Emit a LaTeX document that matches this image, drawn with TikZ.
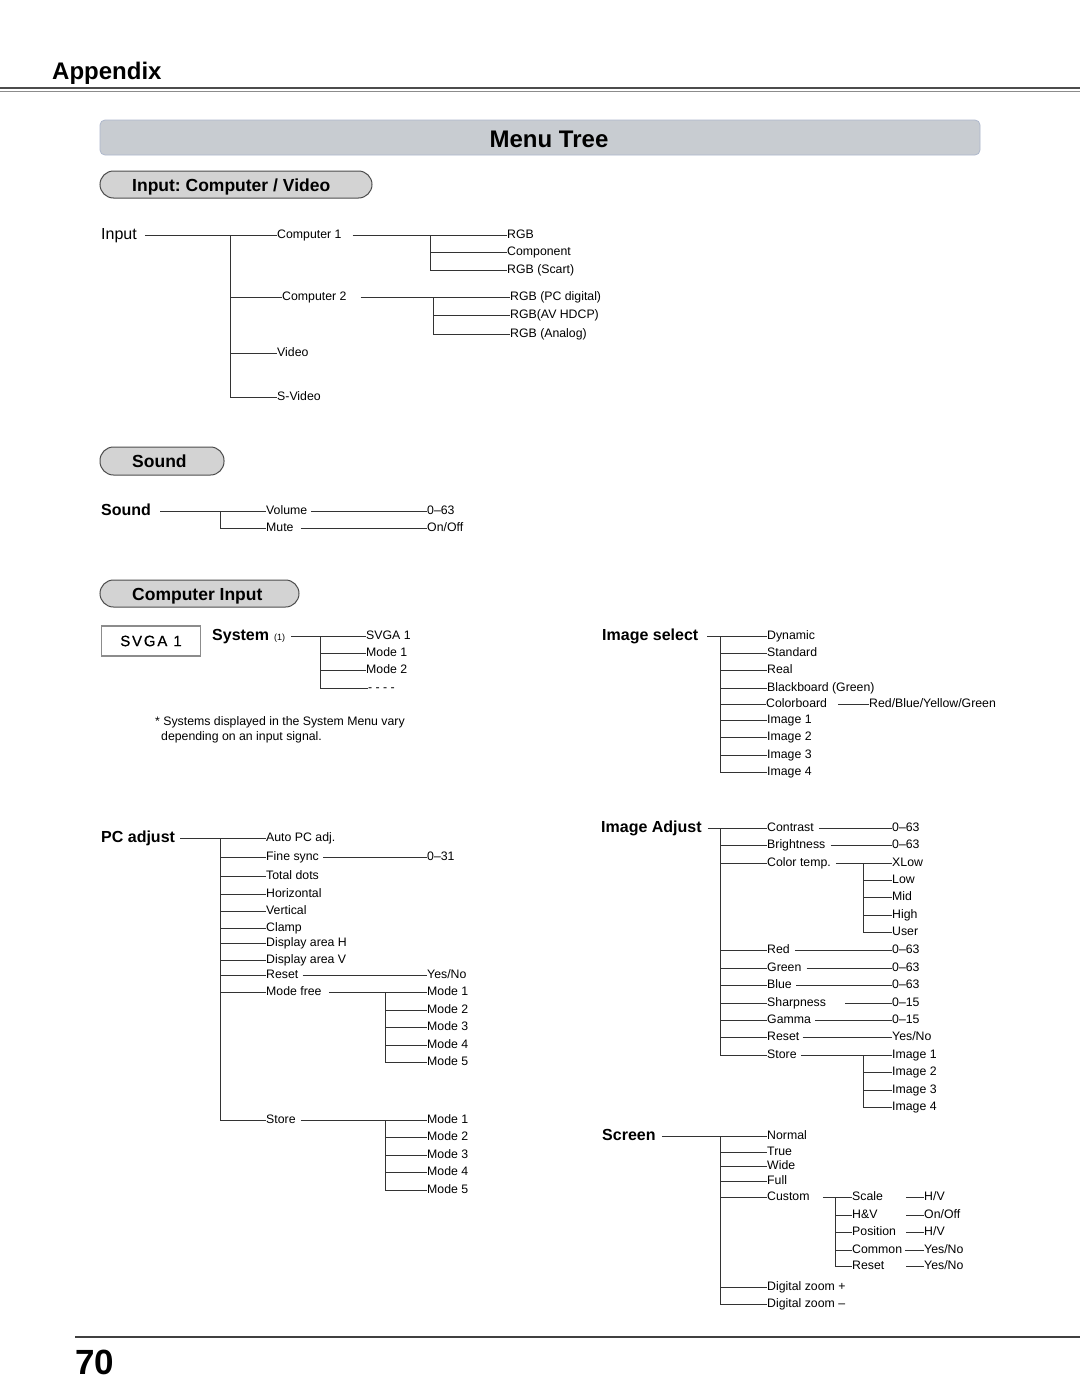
\documentclass[tikz,border=0pt]{standalone}
\usepackage{fontspec}
\setmainfont{Liberation Sans}
\definecolor{bannerfill}{HTML}{C8CCD1}
\definecolor{bannerline}{HTML}{AEB8CC}
\definecolor{pillfill}{HTML}{D3D3D3}
\definecolor{pillline}{HTML}{4D4D4D}
\definecolor{lncol}{HTML}{333333}
\newcommand\twig[2]{\draw[ln] (#1 |- #2.west) -- (#2.west);}
\begin{document}
\frenchspacing
\begin{tikzpicture}[x=1pt,y=-1pt,
  lb/.style={anchor=west, inner sep=0pt, text height=6.4pt, text depth=0pt, font=\fontsize{12.3}{14}\selectfont},
  hd/.style={anchor=west, inner sep=0pt, text height=8.3pt, text depth=0pt, font=\bfseries\fontsize{16}{19}\selectfont},
  hdr/.style={anchor=west, inner sep=0pt, text height=8.3pt, text depth=0pt, font=\fontsize{16}{19}\selectfont},
  ln/.style={draw=lncol, line width=1pt},
  pill/.style={draw=pillline, fill=pillfill, line width=1pt, rounded corners=13.5pt},
  pilltxt/.style={anchor=base west, inner sep=0pt, font=\bfseries\fontsize{17.5}{20}\selectfont}]
\useasboundingbox (0,0) rectangle (1080,1397);
\fill[white] (0,0) rectangle (1080,1397);

% ---------- header ----------
\node[anchor=base west, inner sep=0pt, font=\bfseries\fontsize{24}{28}\selectfont] (appx) at (52,80) {Appendix};
\draw[black!70, line width=1.6pt] (0,88) -- (1080,88);
\draw[black!45, line width=0.7pt] (0,91.5) -- (1080,91.5);

\draw[fill=bannerfill, draw=bannerline, line width=0.8pt, rounded corners=5pt] (100,120) rectangle (980,155);
\node[anchor=base, inner sep=0pt, font=\bfseries\fontsize{24}{28}\selectfont] (mtree) at (549,147) {Menu Tree};

% ---------- Input: Computer / Video ----------
\draw[pill] (100,171) rectangle (372,198);
\node[pilltxt] (p1) at (132,191) {Input: Computer / Video};

\node[hdr] (input) at (101,235) {Input};
\node[lb] (c1) at (277,235) {Computer 1};
\node[lb] (c2) at (282,297) {Computer 2};
\node[lb] (vid) at (277,353) {Video};
\node[lb] (svid) at (277,397) {S-Video};
\coordinate (jA) at (230,235);
\draw[ln] ([xshift=8pt]input.east) -- (c1.west);
\draw[ln] (jA) |- (svid.west);
\twig{jA}{c2}
\twig{jA}{vid}

\node[lb] (rgb) at (507,235) {RGB};
\node[lb] (cmpn) at (507,252) {Component};
\node[lb] (scart) at (507,270) {RGB (Scart)};
\coordinate (jB) at (430,235);
\draw[ln] ([xshift=11pt]c1.east) -- (rgb.west);
\draw[ln] (jB) |- (scart.west);
\twig{jB}{cmpn}

\node[lb] (pcd) at (510,297) {RGB (PC digital)};
\node[lb] (avh) at (510,315) {RGB(AV HDCP)};
\node[lb] (ana) at (510,334) {RGB (Analog)};
\coordinate (jC) at (433,297);
\draw[ln] ([xshift=14pt]c2.east) -- (pcd.west);
\draw[ln] (jC) |- (ana.west);
\twig{jC}{avh}

% ---------- Sound ----------
\draw[pill] (100,447) rectangle (224,475);
\node[pilltxt] (p2) at (132,467) {Sound};

\node[hd] (snd) at (101,511) {Sound};
\node[lb] (vol) at (266,511) {Volume};
\node[lb] (mute) at (266,528) {Mute};
\coordinate (jD) at (220,511);
\draw[ln] ([xshift=9pt]snd.east) -- (vol.west);
\draw[ln] (jD) |- (mute.west);
\node[lb] (v063) at (427,511) {0–63};
\node[lb] (onoff) at (427,528) {On/Off};
\draw[ln] ([xshift=4pt]vol.east) -- (v063.west);
\draw[ln] ([xshift=7pt]mute.east) -- (onoff.west);

% ---------- Computer Input ----------
\draw[pill] (100,580) rectangle (299,607);
\node[pilltxt] (p3) at (132,600) {Computer Input};

\node[draw=black!45, line width=1.8pt, fill=white, minimum width=99pt, minimum height=30pt, inner sep=0pt,
  font=\fontsize{15}{17}\selectfont\addfontfeature{LetterSpace=12,FakeBold=0.6}] (svga) at (151,641) {SVGA\hspace{6pt}1};

\node[hd] (sys) at (212,636) {System\hspace{5pt}{\mdseries\fontsize{9}{10}\selectfont (1)}};
\node[lb] (s1) at (366,636) {SVGA 1};
\node[lb] (sm1) at (366,653) {Mode 1};
\node[lb] (sm2) at (366,670) {Mode 2};
\node[lb] (sdots) at (368,688) {- - - -};
\coordinate (jE) at (320,636);
\draw[ln] ([xshift=6pt]sys.east) -- (s1.west);
\draw[ln] (jE) |- (sdots.west);
\twig{jE}{sm1}
\twig{jE}{sm2}

\node[lb] (note1) at (155,722) {* Systems displayed in the System Menu vary};
\node[lb] (note2) at (161,737) {depending on an input signal.};

% ---------- Image select ----------
\node[hd] (isel) at (602,636) {Image select};
\node[lb] (dyn) at (767,636) {Dynamic};
\node[lb] (std) at (767,653) {Standard};
\node[lb] (real) at (767,670) {Real};
\node[lb] (bb) at (767,688) {Blackboard (Green)};
\node[lb] (cb) at (766,704) {Colorboard};
\node[lb] (im1) at (767,720) {Image 1};
\node[lb] (im2) at (767,737) {Image 2};
\node[lb] (im3) at (767,755) {Image 3};
\node[lb] (im4) at (767,772) {Image 4};
\coordinate (jF) at (720,636);
\draw[ln] ([xshift=9pt]isel.east) -- (dyn.west);
\draw[ln] (jF) |- (im4.west);
\twig{jF}{std}
\twig{jF}{real}
\twig{jF}{bb}
\twig{jF}{cb}
\twig{jF}{im1}
\twig{jF}{im2}
\twig{jF}{im3}
\node[lb] (rbyg) at (869,704) {Red/Blue/Yellow/Green};
\draw[ln] ([xshift=11pt]cb.east) -- (rbyg.west);

% ---------- PC adjust ----------
\node[hd] (pca) at (101,838) {PC adjust};
\node[lb] (auto) at (266,838) {Auto PC adj.};
\node[lb] (fsync) at (266,857) {Fine sync};
\node[lb] (tdots) at (266,876) {Total dots};
\node[lb] (horz) at (266,894) {Horizontal};
\node[lb] (vert) at (266,911) {Vertical};
\node[lb] (clamp) at (266,928) {Clamp};
\node[lb] (dah) at (266,943) {Display area H};
\node[lb] (dav) at (266,960) {Display area V};
\node[lb] (preset) at (266,975) {Reset};
\node[lb] (mfree) at (266,992) {Mode free};
\node[lb] (pstore) at (266,1120) {Store};
\coordinate (jG) at (220,838);
\draw[ln] ([xshift=5pt]pca.east) -- (auto.west);
\draw[ln] (jG) |- (pstore.west);
\twig{jG}{fsync}
\twig{jG}{tdots}
\twig{jG}{horz}
\twig{jG}{vert}
\twig{jG}{clamp}
\twig{jG}{dah}
\twig{jG}{dav}
\twig{jG}{preset}
\twig{jG}{mfree}

\node[lb] (v031) at (427,857) {0–31};
\draw[ln] ([xshift=4pt]fsync.east) -- (v031.west);
\node[lb] (pyn) at (427,975) {Yes/No};
\draw[ln] ([xshift=4pt]preset.east) -- (pyn.west);

\node[lb] (mf1) at (427,992) {Mode 1};
\node[lb] (mf2) at (427,1010) {Mode 2};
\node[lb] (mf3) at (427,1027) {Mode 3};
\node[lb] (mf4) at (427,1045) {Mode 4};
\node[lb] (mf5) at (427,1062) {Mode 5};
\coordinate (jH) at (385,992);
\draw[ln] ([xshift=7pt]mfree.east) -- (mf1.west);
\draw[ln] (jH) |- (mf5.west);
\twig{jH}{mf2}
\twig{jH}{mf3}
\twig{jH}{mf4}

\node[lb] (ps1) at (427,1120) {Mode 1};
\node[lb] (ps2) at (427,1137) {Mode 2};
\node[lb] (ps3) at (427,1155) {Mode 3};
\node[lb] (ps4) at (427,1172) {Mode 4};
\node[lb] (ps5) at (427,1190) {Mode 5};
\coordinate (jI) at (385,1120);
\draw[ln] ([xshift=5pt]pstore.east) -- (ps1.west);
\draw[ln] (jI) |- (ps5.west);
\twig{jI}{ps2}
\twig{jI}{ps3}
\twig{jI}{ps4}

% ---------- Image Adjust ----------
\node[hd] (iadj) at (601,828) {Image Adjust};
\node[lb] (con) at (767,828) {Contrast};
\node[lb] (bri) at (767,845) {Brightness};
\node[lb] (ctemp) at (767,863) {Color temp.};
\node[lb] (red) at (767,950) {Red};
\node[lb] (grn) at (767,968) {Green};
\node[lb] (blu) at (767,985) {Blue};
\node[lb] (shp) at (767,1003) {Sharpness};
\node[lb] (gam) at (767,1020) {Gamma};
\node[lb] (ireset) at (767,1037) {Reset};
\node[lb] (istore) at (767,1055) {Store};
\coordinate (jJ) at (720,828);
\draw[ln] ([xshift=6pt]iadj.east) -- (con.west);
\draw[ln] (jJ) |- (istore.west);
\twig{jJ}{bri}
\twig{jJ}{ctemp}
\twig{jJ}{red}
\twig{jJ}{grn}
\twig{jJ}{blu}
\twig{jJ}{shp}
\twig{jJ}{gam}
\twig{jJ}{ireset}

\node[lb] (vcon) at (892,828) {0–63};
\node[lb] (vbri) at (892,845) {0–63};
\node[lb] (vred) at (892,950) {0–63};
\node[lb] (vgrn) at (892,968) {0–63};
\node[lb] (vblu) at (892,985) {0–63};
\node[lb] (vshp) at (892,1003) {0–15};
\node[lb] (vgam) at (892,1020) {0–15};
\node[lb] (vres) at (892,1037) {Yes/No};
\draw[ln] ([xshift=5pt]con.east) -- (vcon.west);
\draw[ln] ([xshift=5pt]bri.east) -- (vbri.west);
\draw[ln] ([xshift=5pt]red.east) -- (vred.west);
\draw[ln] ([xshift=5pt]grn.east) -- (vgrn.west);
\draw[ln] ([xshift=4pt]blu.east) -- (vblu.west);
\draw[ln] ([xshift=19pt]shp.east) -- (vshp.west);
\draw[ln] ([xshift=4pt]gam.east) -- (vgam.west);
\draw[ln] ([xshift=3pt]ireset.east) -- (vres.west);

\node[lb] (xlow) at (892,863) {XLow};
\node[lb] (low) at (892,880) {Low};
\node[lb] (mid) at (892,897) {Mid};
\node[lb] (high) at (892,915) {High};
\node[lb] (user) at (892,932) {User};
\coordinate (jK) at (863,863);
\draw[ln] ([xshift=5pt]ctemp.east) -- (xlow.west);
\draw[ln] (jK) |- (user.west);
\twig{jK}{low}
\twig{jK}{mid}
\twig{jK}{high}

\node[lb] (is1) at (892,1055) {Image 1};
\node[lb] (is2) at (892,1072) {Image 2};
\node[lb] (is3) at (892,1090) {Image 3};
\node[lb] (is4) at (892,1107) {Image 4};
\coordinate (jL) at (863,1055);
\draw[ln] ([xshift=4pt]istore.east) -- (is1.west);
\draw[ln] (jL) |- (is4.west);
\twig{jL}{is2}
\twig{jL}{is3}

% ---------- Screen ----------
\node[hd] (scr) at (602,1136) {Screen};
\node[lb] (nrm) at (767,1136) {Normal};
\node[lb] (tru) at (767,1152) {True};
\node[lb] (wid) at (767,1166) {Wide};
\node[lb] (ful) at (767,1181) {Full};
\node[lb] (cus) at (767,1197) {Custom};
\node[lb] (dzp) at (767,1287) {Digital zoom +};
\node[lb] (dzm) at (767,1304) {Digital zoom –};
\coordinate (jM) at (720,1136);
\draw[ln] ([xshift=6pt]scr.east) -- (nrm.west);
\draw[ln] (jM) |- (dzm.west);
\twig{jM}{tru}
\twig{jM}{wid}
\twig{jM}{ful}
\twig{jM}{cus}
\twig{jM}{dzp}

\node[lb] (scl) at (852,1197) {Scale};
\node[lb] (hv) at (852,1215) {H\&V};
\node[lb] (pos) at (852,1232) {Position};
\node[lb] (cmn) at (852,1250) {Common};
\node[lb] (crs) at (852,1266) {Reset};
\coordinate (jN) at (835,1197);
\draw[ln] ([xshift=13pt]cus.east) -- (scl.west);
\draw[ln] (jN) |- (crs.west);
\twig{jN}{hv}
\twig{jN}{pos}
\twig{jN}{cmn}

\node[lb] (vscl) at (924,1197) {H/V};
\node[lb] (vhv) at (924,1215) {On/Off};
\node[lb] (vpos) at (924,1232) {H/V};
\node[lb] (vcmn) at (924,1250) {Yes/No};
\node[lb] (vcrs) at (924,1266) {Yes/No};
\draw[ln] ([xshift=-18pt]vscl.west) -- (vscl.west);
\draw[ln] ([xshift=-18pt]vhv.west) -- (vhv.west);
\draw[ln] ([xshift=-18pt]vpos.west) -- (vpos.west);
\draw[ln] ([xshift=-19pt]vcmn.west) -- (vcmn.west);
\draw[ln] ([xshift=-18pt]vcrs.west) -- (vcrs.west);

% ---------- footer ----------
\draw[black!75, line width=1.3pt] (75,1337) -- (1080,1337);
\node[anchor=base west, inner sep=0pt, font=\bfseries\fontsize{35}{40}\selectfont] (pgno) at (75,1374) {70};
\end{tikzpicture}
\end{document}
